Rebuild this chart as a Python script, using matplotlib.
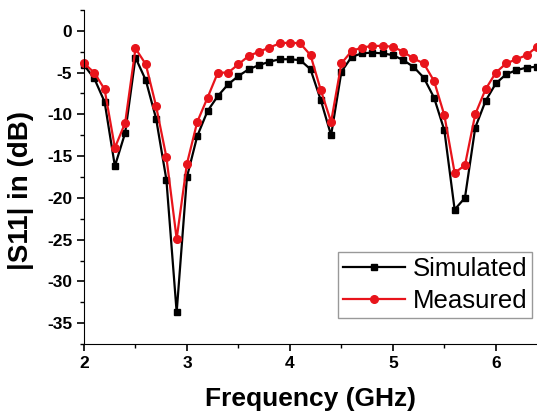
import matplotlib.pyplot as plt
from matplotlib.ticker import MultipleLocator

plt.rcParams['font.family'] = ['Liberation Sans', 'DejaVu Sans']
plt.rcParams['axes.unicode_minus'] = False

# frequency points (GHz), 0.1 GHz step
freq = [2.0, 2.1, 2.2, 2.3, 2.4, 2.5, 2.6, 2.7, 2.8, 2.9,
        3.0, 3.1, 3.2, 3.3, 3.4, 3.5, 3.6, 3.7, 3.8, 3.9,
        4.0, 4.1, 4.2, 4.3, 4.4, 4.5, 4.6, 4.7, 4.8, 4.9,
        5.0, 5.1, 5.2, 5.3, 5.4, 5.5, 5.6, 5.7, 5.8, 5.9,
        6.0, 6.1, 6.2, 6.3, 6.4]

simulated = [-4.1, -5.7, -8.5, -16.2, -12.2, -3.2, -5.9, -10.5, -17.8, -33.7,
             -17.5, -12.6, -9.6, -7.8, -6.4, -5.4, -4.6, -4.1, -3.7, -3.4,
             -3.4, -3.5, -4.6, -8.3, -12.5, -4.9, -3.1, -2.7, -2.6, -2.7,
             -2.9, -3.5, -4.3, -5.6, -8.0, -11.9, -21.4, -20.0, -11.6, -8.4,
             -6.3, -5.2, -4.7, -4.4, -4.3]

measured = [-3.9, -5.0, -7.0, -14.0, -11.0, -2.1, -4.0, -9.0, -15.1, -24.9,
            -15.9, -10.9, -8.0, -5.0, -5.0, -4.0, -3.0, -2.5, -2.0, -1.5,
            -1.4, -1.5, -2.9, -7.1, -10.9, -3.9, -2.4, -2.0, -1.8, -1.8,
            -1.9, -2.5, -3.3, -3.9, -6.0, -10.1, -17.0, -16.1, -10.0, -7.0,
            -5.0, -3.9, -3.4, -2.9, -1.9]

fig = plt.figure(figsize=(5.37, 4.16), dpi=100)
ax = fig.add_axes([84 / 537, 72 / 416, 1 - 84 / 537, 334 / 416])

ax.plot(freq, simulated, color='black', marker='s', markersize=5, linewidth=1.6,
        label='Simulated', clip_on=False)
ax.plot(freq, measured, color='#e8141b', marker='o', markersize=5.5, linewidth=1.6,
        label='Measured', clip_on=False)

ax.set_xlim(2, 6.4)
ax.set_ylim(-37.5, 2.5)
ax.xaxis.set_major_locator(MultipleLocator(1))
ax.xaxis.set_minor_locator(MultipleLocator(0.5))
ax.yaxis.set_major_locator(MultipleLocator(5))
ax.yaxis.set_minor_locator(MultipleLocator(2.5))

ax.spines['top'].set_visible(False)
ax.spines['right'].set_visible(False)
ax.tick_params(which='major', direction='out', length=5, width=1.2)
ax.tick_params(which='minor', direction='out', length=3, width=1)
ax.tick_params(labelsize=12.5)
for lab in ax.get_xticklabels() + ax.get_yticklabels():
    lab.set_fontweight('bold')

ax.set_xlabel('Frequency (GHz)', fontsize=19, fontweight='bold')
ax.set_ylabel('|S11| in (dB)', fontsize=20, fontweight='bold')
ax.xaxis.set_label_coords(0.499, -0.13)
ax.yaxis.set_label_coords(-0.11, 0.46)

leg = ax.legend(loc='lower left', bbox_to_anchor=(338 / 537, 98 / 416),
                bbox_transform=fig.transFigure, fontsize=18.5, handlelength=2.4,
                fancybox=False, framealpha=1, edgecolor='#999999',
                borderpad=0.2, labelspacing=0.3, handletextpad=0.3,
                borderaxespad=0)
leg.get_frame().set_linewidth(1)

fig.savefig('out.png', dpi=100)
